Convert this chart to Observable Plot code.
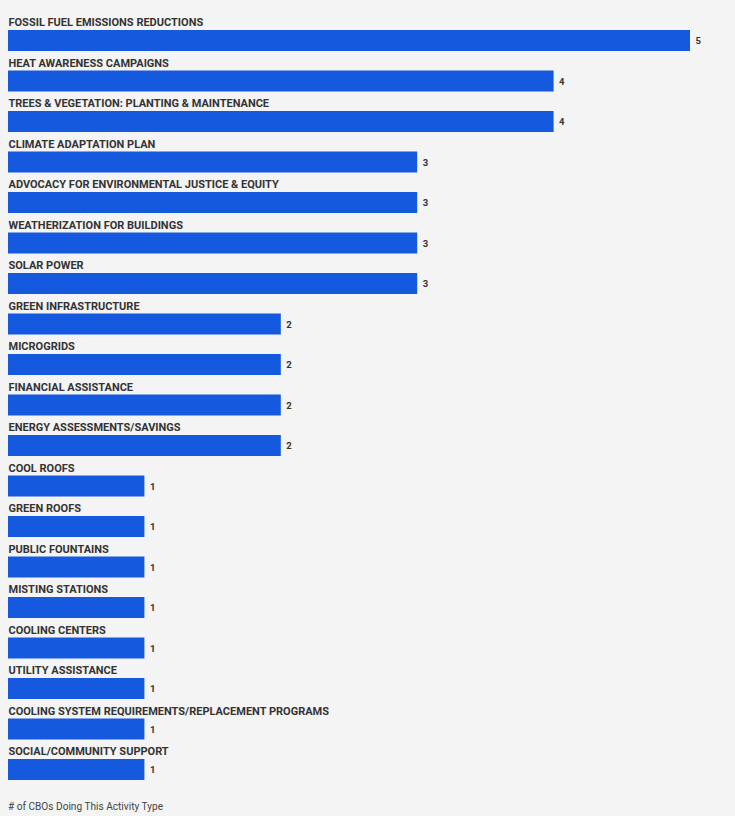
<!DOCTYPE html>
<html>
<head>
<meta charset="utf-8">
<script src="https://cdn.jsdelivr.net/npm/d3@7"></script>
<script src="https://cdn.jsdelivr.net/npm/@observablehq/plot@0.6"></script>
<style>
  html, body { margin: 0; padding: 0; background: #f4f4f4; }
  #chart svg { display: block; background: #f4f4f4; }
  #caption { font-family: Roboto, sans-serif; font-size: 10.5px; color: #444; margin: 9px 0 0 8px; display: inline-block; transform-origin: left center; white-space: nowrap; }
</style>
</head>
<body>
<div id="chart"></div>
<div id="caption"># of CBOs Doing This Activity Type</div>
<script>
const activities = [
  "FOSSIL FUEL EMISSIONS REDUCTIONS",
  "HEAT AWARENESS CAMPAIGNS",
  "TREES & VEGETATION: PLANTING & MAINTENANCE",
  "CLIMATE ADAPTATION PLAN",
  "ADVOCACY FOR ENVIRONMENTAL JUSTICE & EQUITY",
  "WEATHERIZATION FOR BUILDINGS",
  "SOLAR POWER",
  "GREEN INFRASTRUCTURE",
  "MICROGRIDS",
  "FINANCIAL ASSISTANCE",
  "ENERGY ASSESSMENTS/SAVINGS",
  "COOL ROOFS",
  "GREEN ROOFS",
  "PUBLIC FOUNTAINS",
  "MISTING STATIONS",
  "COOLING CENTERS",
  "UTILITY ASSISTANCE",
  "COOLING SYSTEM REQUIREMENTS/REPLACEMENT PROGRAMS",
  "SOCIAL/COMMUNITY SUPPORT"
];
const counts = [5, 4, 4, 3, 3, 3, 3, 2, 2, 2, 2, 1, 1, 1, 1, 1, 1, 1, 1];

const data = activities.map((a, i) => ({activity: a, count: counts[i]}));
const font = 'Roboto, sans-serif';

const chart = Plot.plot({
  width: 735,
  height: 791,
  marginTop: 11,
  marginBottom: 10.5,
  marginLeft: 8,
  marginRight: 45,
  style: {background: "#f4f4f4", fontFamily: font},
  x: {domain: [0, 5], axis: null},
  y: {domain: activities, axis: null, padding: 0, round: false},
  marks: [
    Plot.barX(data, {x: "count", y: "activity", fill: "#1459de", insetTop: 19, insetBottom: 0.5}),
    Plot.text(data, {x: 0, y: "activity", text: "activity", textAnchor: "start", dy: -9, fontSize: 11, fontWeight: "bold", fill: "#333", ariaLabel: "labels"}),
    Plot.text(data, {x: "count", y: "activity", text: d => String(d.count), textAnchor: "start", dx: 5, dy: 9.5, fontSize: 9.5, fontWeight: "bold", fill: "#333", ariaLabel: "values"})
  ]
});
document.getElementById("chart").appendChild(chart);

// condense the label glyphs horizontally to mimic the original's condensed typeface
const labels = chart.querySelectorAll('g[aria-label="labels"] text');
if (labels.length) {
  const w = labels[0].getComputedTextLength();
  const k = w > 0 ? 176 / w : 1;
  labels.forEach(t => {
    const tr = t.getAttribute("transform") || "";
    t.setAttribute("transform", tr + ` scale(${k},1)`);
  });
}
const values = chart.querySelectorAll('g[aria-label="values"] text');
values.forEach(t => {
  const tr = t.getAttribute("transform") || "";
  t.setAttribute("transform", tr + " scale(0.85,1)");
});
const cap = document.getElementById("caption");
const cw = cap.getBoundingClientRect().width;
if (cw > 0) cap.style.transform = `scaleX(${155 / cw})`;
</script>
</body>
</html>
